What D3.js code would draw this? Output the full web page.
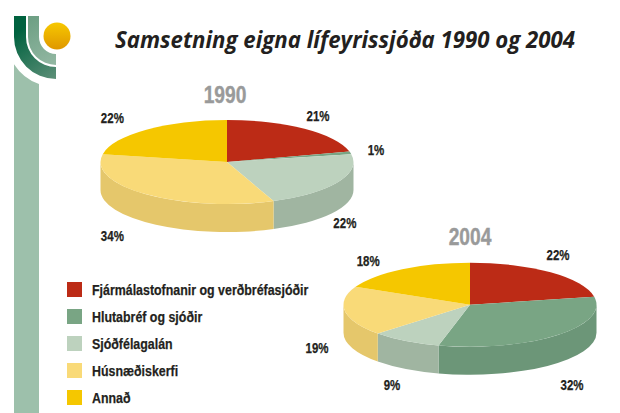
<!DOCTYPE html>
<html>
<head>
<meta charset="utf-8">
<script src="https://cdn.jsdelivr.net/npm/d3@7"></script>
<style>
  html, body { margin: 0; padding: 0; background: #fff; }
  svg { display: block; }
  text { font-family: "Liberation Sans", sans-serif; font-weight: 700; fill: #231f20; }
</style>
</head>
<body>
<div id="chart"></div>
<script>
const titleText = 'Samsetning eigna lífeyrissjóða 1990 og 2004'
const categories = ['Fjármálastofnanir og verðbréfasjóðir', 'Hlutabréf og sjóðir', 'Sjóðfélagalán', 'Húsnæðiskerfi', 'Annað']
const values1990 = [21, 1, 22, 34, 22]
const values2004 = [22, 32, 9, 19, 18]

const topColors = ['#bc2b16', '#79a584', '#bdd2be', '#f9da78', '#f5c700']
const wallColors = ['#8f2010', '#6c9678', '#a0b5a1', '#e5c76b', '#d0a800']

const width = 620
const height = 413
const rx = 126.5
const ry = 42
const depth = 28

// nudges from the rim point at each slice's middle angle to the label centre
const nudge1990 = [[13.5, -12.8], [25.5, -2.8], [7, 41], [-34, 42], [-34, -12]]
const nudge2004 = [[7.4, -17.3], [15.4, 49.7], [-13.6, 44], [-28, 36.7], [-34, -8]]

const svg = d3.select('#chart')
  .append('svg')
  .attr('width', width)
  .attr('height', height)

const defs = svg.append('defs')

const sunGradient = defs.append('linearGradient')
  .attr('id', 'sun').attr('x1', 0).attr('y1', 0).attr('x2', 0).attr('y2', 1)
sunGradient.append('stop').attr('offset', '0%').attr('stop-color', '#f7c800')
sunGradient.append('stop').attr('offset', '100%').attr('stop-color', '#df9700')

const outerGradient = defs.append('linearGradient')
  .attr('id', 'outerBand').attr('gradientUnits', 'userSpaceOnUse')
  .attr('x1', 20).attr('y1', 30).attr('x2', 56).attr('y2', 80)
outerGradient.append('stop').attr('offset', '0%').attr('stop-color', '#00623f')
outerGradient.append('stop').attr('offset', '100%').attr('stop-color', '#5f9079')

const innerGradient = defs.append('linearGradient')
  .attr('id', 'innerBand').attr('gradientUnits', 'userSpaceOnUse')
  .attr('x1', 30).attr('y1', 20).attr('x2', 56).attr('y2', 65)
innerGradient.append('stop').attr('offset', '0%').attr('stop-color', '#6fa085')
innerGradient.append('stop').attr('offset', '100%').attr('stop-color', '#93b8a3')

drawLogo()

svg.append('text')
  .attr('x', 345)
  .attr('y', 48)
  .attr('text-anchor', 'middle')
  .attr('font-style', 'italic')
  .attr('font-size', 24)
  .style('font-family', '"Open Sans", sans-serif')
  .attr('textLength', 460)
  .attr('lengthAdjust', 'spacingAndGlyphs')
  .text(titleText)

drawPie(values1990, nudge1990, 227, 162, '1990', 225, 103)
drawPie(values2004, nudge2004, 470, 304.7, '2004', 470, 245)
drawLegend()

// no condensed face is installed, so squeeze the glyphs to the reference's width
function condense (selection, k) {
  selection
    .attr('lengthAdjust', 'spacingAndGlyphs')
    .attr('textLength', function () { return this.getComputedTextLength() * k })
}

function drawPie (values, nudges, cx, cy, year, yearX, yearY) {
  const slices = d3.pie().sort(null)(values)
  const arc = d3.arc().innerRadius(0).outerRadius(rx)
  const rim = (a) => [cx + rx * Math.sin(a), cy - ry * Math.cos(a)]

  const walls = slices
    .map((d, i) => ({
      index: i,
      a0: Math.max(d.startAngle, Math.PI / 2),
      a1: Math.min(d.endAngle, Math.PI * 1.5)
    }))
    .filter((d) => d.a1 > d.a0)

  svg.append('g')
    .selectAll('path')
    .data(walls)
    .join('path')
    .attr('fill', (d) => wallColors[d.index])
    .attr('d', (d) => {
      const [x0, y0] = rim(d.a0)
      const [x1, y1] = rim(d.a1)
      return `M${x0},${y0}A${rx},${ry} 0 0 1 ${x1},${y1}` +
        `L${x1},${y1 + depth}A${rx},${ry} 0 0 0 ${x0},${y0 + depth}Z`
    })

  svg.append('g')
    .attr('transform', `translate(${cx},${cy}) scale(1,${ry / rx})`)
    .selectAll('path')
    .data(slices)
    .join('path')
    .attr('fill', (d, i) => topColors[i])
    .attr('d', arc)

  svg.append('g')
    .selectAll('text')
    .data(slices)
    .join('text')
    .attr('x', (d, i) => rim((d.startAngle + d.endAngle) / 2)[0] + nudges[i][0])
    .attr('y', (d, i) => rim((d.startAngle + d.endAngle) / 2)[1] + nudges[i][1])
    .attr('text-anchor', 'middle')
    .attr('dominant-baseline', 'central')
    .attr('font-size', 14)
    .attr('stroke', '#231f20')
    .attr('stroke-width', 0.25)
    .text((d) => `${d.value}%`)
    .call(condense, 0.82)

  svg.append('text')
    .attr('x', yearX)
    .attr('y', yearY)
    .attr('text-anchor', 'middle')
    .attr('font-size', 24)
    .attr('stroke', '#999a9a')
    .attr('stroke-width', 0.4)
    .style('fill', '#999a9a')
    .text(year)
    .call(condense, 0.8)
}

function drawLegend () {
  const y = d3.scalePoint().domain(categories).range([282, 390])

  const rows = svg.append('g')
    .selectAll('g')
    .data(categories)
    .join('g')
    .attr('transform', (d) => `translate(67,${y(d)})`)

  rows.append('rect')
    .attr('width', 15)
    .attr('height', 15)
    .attr('fill', (d, i) => topColors[i])

  rows.append('text')
    .attr('x', 25)
    .attr('y', 7)
    .attr('dominant-baseline', 'central')
    .attr('font-size', 15.5)
    .attr('stroke', '#231f20')
    .attr('stroke-width', 0.25)
    .text((d) => d)
    .call(condense, 0.8)
}

function drawLogo () {
  const g = svg.append('g')
  const center = [56, 37]

  // pale stripe, its top edge follows a circle round the logo centre
  const stripeTop = (x) => center[1] + Math.sqrt(50 * 50 - (x - center[0]) * (x - center[0]))
  g.append('path')
    .attr('fill', '#9dc0ab')
    .attr('d', `M14,${stripeTop(14)}A50,50 0 0 0 39,${stripeTop(39)}L39,${height}L14,${height}Z`)

  const band = (outer, inner, fill) => {
    g.append('path')
      .attr('fill', fill)
      .attr('d', `M${center[0] - outer},16L${center[0] - outer},${center[1]}` +
        `A${outer},${outer} 0 0 0 ${center[0]},${center[1] + outer}` +
        `L${center[0]},${center[1] + inner}` +
        `A${inner},${inner} 0 0 1 ${center[0] - inner},${center[1]}` +
        `L${center[0] - inner},16Z`)
  }
  band(42, 30, 'url(#outerBand)')
  band(28, 17, 'url(#innerBand)')

  g.append('circle')
    .attr('cx', 57)
    .attr('cy', 36)
    .attr('r', 13.5)
    .attr('fill', 'url(#sun)')
}
</script>
</body>
</html>
